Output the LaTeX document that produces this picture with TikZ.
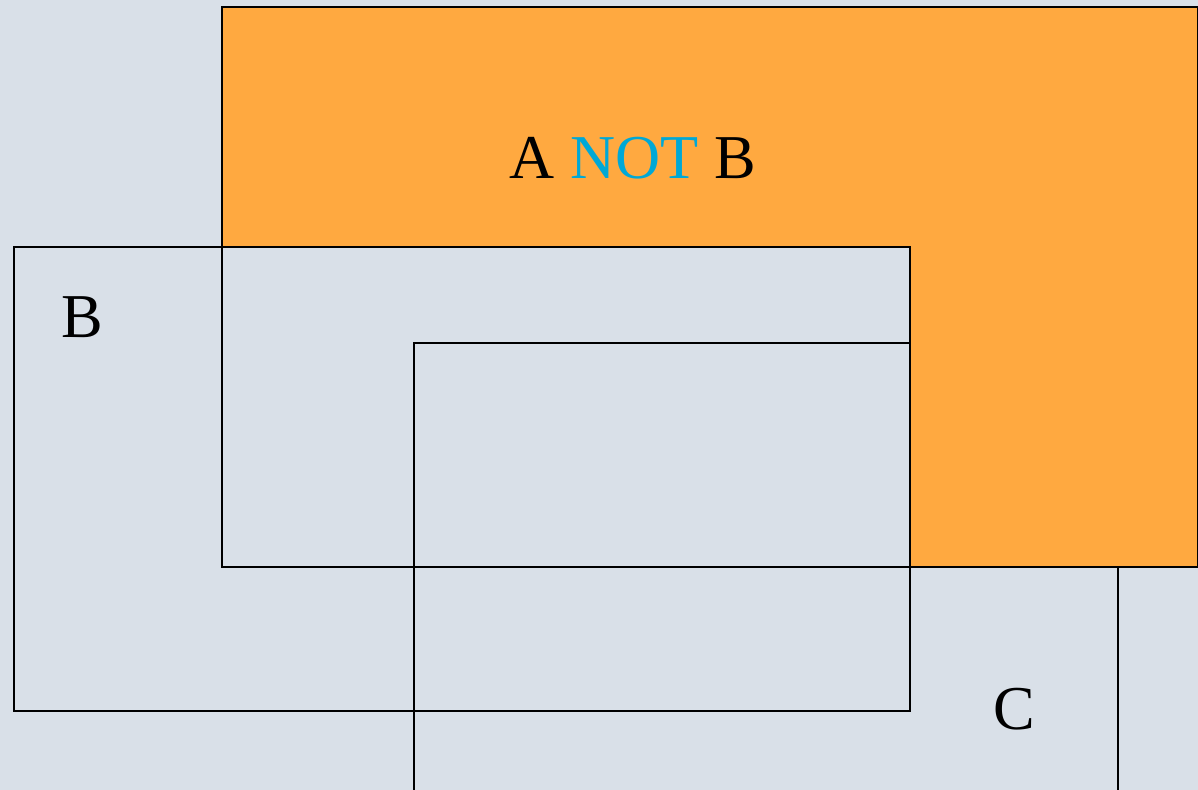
\documentclass[tikz,border=0pt]{standalone}
\usepackage{fontspec}
\setmainfont{Liberation Serif}
\usepackage{tikz}
\usetikzlibrary{positioning}

\definecolor{bgblue}{HTML}{D9E0E8}
\definecolor{setorange}{HTML}{FFA940}
\definecolor{notcyan}{HTML}{00A8D6}

\tikzset{
	setline/.style={line width=1.3pt, black},
	setlabel/.style={inner sep=0pt, font=\fontsize{35.5}{42}\selectfont}
}

\begin{document}
\begin{tikzpicture}[x=0.02cm, y=-0.02cm]
		\clip (0,0) rectangle (1198,790);
		\fill [bgblue] (0,0) rectangle (1198,790);
		% set C (behind A)
		\draw [setline] (414,830) -- (414,343) -- (1118,343) -- (1118,830);
		% A not B
		\fill [setorange] (222,7) -- (1198,7) -- (1198,567) -- (910,567) -- (910,247) -- (222,247) -- cycle;
		\draw [setline] (222,7) rectangle (1198,567);
		\draw [setline] (14,247) rectangle (910,711);
		\node [setlabel] (anotb) at (633,158) {A \textcolor{notcyan}{NOT} B};
		\node [setlabel] (labb) at (82,317) {B};
		\node [setlabel] (labc) at (1014,709) {C};
	\end{tikzpicture}
\end{document}
